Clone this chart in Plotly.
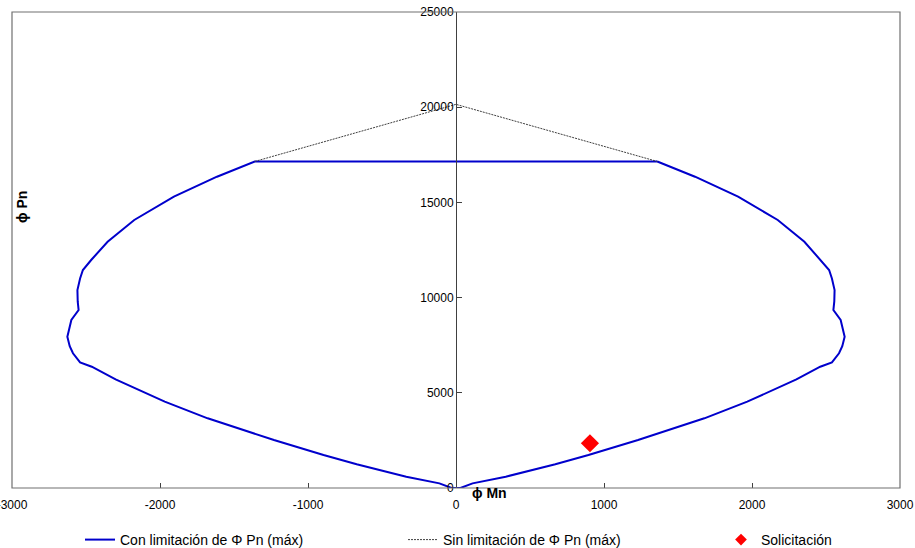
import plotly.graph_objects as go

# Interaction diagram (phi*Mn vs phi*Pn)
# Right branch, from the top cap down to the origin
m_right = [1360, 1615, 1906, 2174, 2354, 2465, 2521, 2540, 2558, 2556, 2550,
           2599, 2626, 2610, 2588, 2540, 2461, 2300, 1968, 1678, 1230, 895, 671, 336, 112, 30]
p_right = [17150, 16350, 15300, 14075, 12935, 11975, 11450, 11000, 10400, 9800, 9350,
           8825, 7945, 7450, 7075, 6600, 6370, 5700, 4533, 3660, 2520, 1733, 1250, 595, 245, 0]

# Left branch, from the origin up to the top cap
m_left = [-30, -112, -336, -671, -895, -1230, -1678, -1968, -2300, -2461, -2540, -2588,
          -2610, -2626, -2599, -2550, -2556, -2558, -2540, -2521, -2465, -2354, -2174,
          -1906, -1615, -1360]
p_left = [0, 245, 595, 1250, 1733, 2520, 3660, 4533, 5700, 6370, 6600, 7075,
          7450, 7945, 8825, 9350, 9800, 10400, 11000, 11450, 11975, 12935, 14075,
          15300, 16350, 17150]

# Unlimited axial capacity (dashed cap)
m_cap = [-1360, 0, 1360]
p_cap = [17150, 20150, 17150]

# Applied load
m_load = [905]
p_load = [2350]

x_ticks = [-3000, -2000, -1000, 0, 1000, 2000, 3000]
y_ticks = [0, 5000, 10000, 15000, 20000, 25000]

FONT = "Liberation Sans, Arial, sans-serif"

m_closed = m_right + m_left + [m_right[0]]
p_closed = p_right + p_left + [p_right[0]]

fig = go.Figure()
fig.add_trace(go.Scatter(
    x=m_closed, y=p_closed, mode="lines",
    line=dict(color="#0000CC", width=2),
    name="Con limitación de Φ Pn (máx)", legend="legend",
))
fig.add_trace(go.Scatter(
    x=m_cap, y=p_cap, mode="lines",
    line=dict(color="#404040", width=1, dash="2px,1px"),
    name="Sin limitación de Φ Pn (máx)", legend="legend2",
))
fig.add_trace(go.Scatter(
    x=m_load, y=p_load, mode="markers",
    marker=dict(symbol="diamond", color="#FF0000", size=14),
    name="Solicitación", showlegend=False,
))
# Legend entry for the load, with a smaller symbol than the plotted point
fig.add_trace(go.Scatter(
    x=[None], y=[None], mode="markers",
    marker=dict(symbol="diamond", color="#FF0000", size=9),
    name="Solicitación", legend="legend3",
))

legend_common = dict(
    orientation="h", xref="container", yref="container",
    y=0.0146, xanchor="left", yanchor="middle",
    font=dict(family=FONT, size=14, color="black"),
    itemsizing="trace", bgcolor="rgba(0,0,0,0)",
)

fig.update_layout(
    width=915, height=548,
    margin=dict(l=12, r=15, t=12, b=60, autoexpand=False),
    paper_bgcolor="white", plot_bgcolor="white",
    font=dict(family=FONT, size=12, color="black"),
    showlegend=True,
    legend=dict(x=80 / 915, **legend_common),
    legend2=dict(x=403 / 915, **legend_common),
    legend3=dict(x=721 / 915, **legend_common),
    xaxis=dict(
        range=[-3000, 3000], tickvals=x_ticks, ticktext=[str(v) for v in x_ticks],
        ticks="inside", ticklen=5, tickcolor="#404040",
        showgrid=False, zeroline=False, showline=False,
        ticklabeloverflow="allow", ticklabelstandoff=8,
        tickfont=dict(family=FONT, size=12),
    ),
    yaxis=dict(
        range=[0, 25000], tickvals=y_ticks, ticktext=[str(v) for v in y_ticks],
        anchor="free", position=0.5, side="left",
        ticks="inside", ticklen=5, tickcolor="#404040",
        showline=True, linecolor="#404040", linewidth=1,
        showgrid=False, zeroline=False,
        ticklabeloverflow="allow",
        tickfont=dict(family=FONT, size=12),
    ),
    shapes=[
        dict(type="rect", xref="paper", yref="paper", x0=0, y0=0, x1=1, y1=1,
             line=dict(color="#707070", width=1.2), layer="above"),
    ],
    annotations=[
        dict(text="<b>ϕ Pn</b>", xref="paper", yref="paper", x=0.011, y=0.59,
             xanchor="center", yanchor="middle",
             showarrow=False, textangle=-90, font=dict(family=FONT, size=14)),
        dict(text="<b>ϕ Mn</b>", xref="paper", yref="paper", x=0.5155, y=-0.01,
             xanchor="left", yanchor="middle", showarrow=False,
             font=dict(family=FONT, size=14)),
    ],
)

fig.write_html("out.html")
